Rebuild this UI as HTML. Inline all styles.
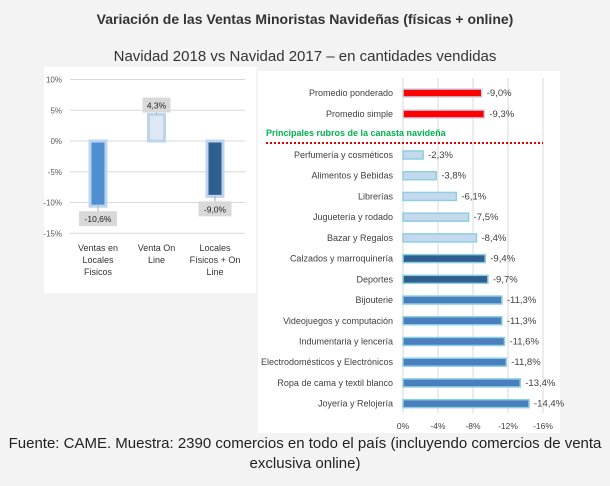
<!DOCTYPE html>
<html><head><meta charset="utf-8"><style>
body{margin:0;width:610px;height:486px;background:#f3f3f3;font-family:"Liberation Sans",sans-serif;overflow:hidden;position:relative}
.t{position:absolute;left:0;width:610px;text-align:center;color:#333}
</style></head><body>
<div class="t" style="top:11px;font-size:14px;font-weight:bold">Variación de las Ventas Minoristas Navideñas (físicas + online)</div>
<div class="t" style="top:48px;font-size:15px">Navidad 2018 vs Navidad 2017 – en cantidades vendidas</div>
<svg width="610" height="486" style="position:absolute;left:0;top:0">
<rect x="44" y="67" width="212" height="226" fill="#fff"/>
<rect x="258" y="71" width="302" height="362" fill="#fff"/>
<g id="left" font-size="8" fill="#595959"></g>
<g id="right" font-size="9" fill="#404040"></g>
</svg>
<div class="t" style="top:434px;font-size:15px;line-height:20px;color:#222">Fuente: CAME. Muestra: 2390 comercios en todo el país (incluyendo comercios de venta<br>exclusiva online)</div>
<script>
const leftCats=["Ventas en|Locales|Fisicos","Venta On|Line","Locales|Físicos + On|Line"];
const leftVals=[-10.6,4.3,-9.0];
const leftLabels=["-10,6%","4,3%","-9,0%"];
const leftTicks=[10,5,0,-5,-10,-15];
const rightCats=["Promedio  ponderado","Promedio  simple","Perfumería  y cosméticos","Alimentos y Bebidas","Librerías","Juguetería  y rodado","Bazar y Regalos","Calzados y marroquinería","Deportes","Bijouterie","Videojuegos  y computación","Indumentaria y lencería","Electrodomésticos  y Electrónicos","Ropa de cama y textil blanco","Joyería y Relojería"];
const rightVals=[-9.0,-9.3,-2.3,-3.8,-6.1,-7.5,-8.4,-9.4,-9.7,-11.3,-11.3,-11.6,-11.8,-13.4,-14.4];
const rightTicks=[0,-4,-8,-12,-16];
const NS="http://www.w3.org/2000/svg";
function mk(p,t,a,txt){const e=document.createElementNS(NS,t);for(const k in a)e.setAttribute(k,a[k]);if(txt!=null)e.textContent=txt;p.appendChild(e);return e;}
const L=document.getElementById('left');
const ly=v=>141-v*6.15;
leftTicks.forEach(t=>{
 const g=mk(L,'line',{x1:70,x2:245,y1:ly(t),y2:ly(t),stroke:'#d9d9d9'});
 
 
 const tx=mk(L,'text',{x:62,y:ly(t)+3,'text-anchor':'end'},t+'%');
 
 
});
const lfill=["#4f8fd0","#dde8f3","#2f5f8e"];
leftVals.forEach((v,i)=>{
 const cx=98+i*58.5, y0=ly(Math.max(v,0)), y1=ly(Math.min(v,0));
 const b=mk(L,'rect',{x:cx-8,y:y0,width:16,height:y1-y0,fill:lfill[i],stroke:'#bcd4ee','stroke-width':3});
 
 
 const ty=v<0?y1+12:y0-10;
 mk(L,'line',{x1:cx,x2:cx,y1:v<0?y1:y0,y2:v<0?ty-5:ty+5,stroke:'#aaa'});
 const w=leftLabels[i].length*5+8;
 const r=mk(L,'rect',{x:cx-w/2,y:ty-7,width:w,height:15,fill:'#d9d9d9'});
 
 
 const t=mk(L,'text',{x:cx,y:ty+4,'text-anchor':'middle',fill:'#222','font-size':'8.5'},leftLabels[i]);
 
 
 leftCats[i].split('|').forEach((s,j)=>{
  const c=mk(L,'text',{x:cx,y:251+j*12,'text-anchor':'middle',fill:'#333','font-size':'9'},s);
  
  
 });
});
const R=document.getElementById('right');
const rx=v=>403-v*8.75;
const rowY=i=>i<2?93+i*21:155+(i-2)*20.72;
rightTicks.forEach(t=>{
 const g=mk(R,'line',{x1:rx(t),x2:rx(t),y1:78,y2:413,stroke:'#d9d9d9'});
 
 
 const tx=mk(R,'text',{x:rx(t),y:429,'text-anchor':'middle','font-size':'8.5'},t+'%');
 
 
});
rightVals.forEach((v,i)=>{
 const y=rowY(i);
 let fill=i<2?'#ff0000':i<7?'#c5d9ee':i<9?'#2f5f8e':'#4a7fbf';
 const b=mk(R,'rect',{x:403,y:y-4,width:rx(v)-403,height:8,fill:fill,stroke:i<2?'#c5d9ee':'#8ccfe0','stroke-width':1.5});
 
 
 const c=mk(R,'text',{x:393,y:y+3,'text-anchor':'end'},rightCats[i]);
 
 
 const l=mk(R,'text',{x:rx(v)+5,y:y+3,'font-size':'9.5'},v.toFixed(1).replace('.',',')+'%');
 
 
});
const h=mk(R,'text',{x:266,y:136,fill:'#00b050','font-weight':'bold','font-size':'9'},'Principales rubros de la canasta  navideña');


const d=mk(R,'line',{x1:266,x2:543,y1:143,y2:143,stroke:'#e00000','stroke-width':2,'stroke-dasharray':'2,2'});


</script>
</body></html>
